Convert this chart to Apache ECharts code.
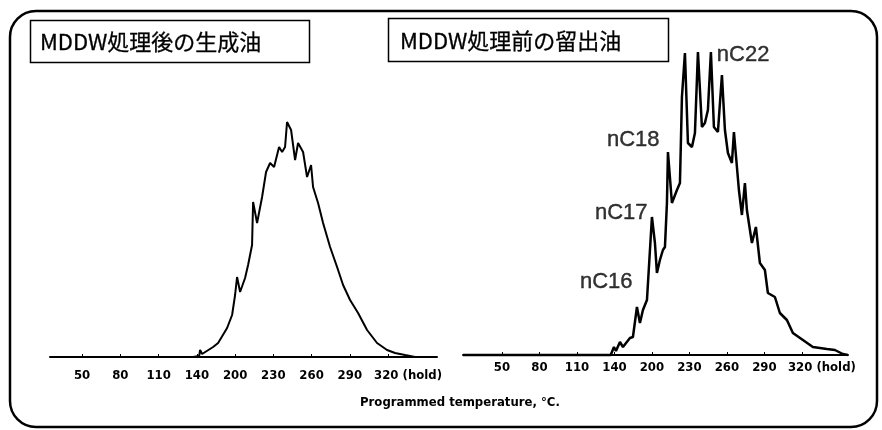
<!DOCTYPE html>
<html>
<head>
<meta charset="utf-8">
<script src="https://cdn.jsdelivr.net/npm/echarts@6/dist/echarts.min.js"></script>
<style>html,body{margin:0;padding:0;background:#fff}#c{width:882px;height:430px}</style>
</head>
<body>
<div id="c"></div>
<script>
// Tick labels (equally spaced positions on the programmed-temperature axis)
var tickPositions = [0, 1, 2, 3, 4, 5, 6, 7, 8];
var tickLabels = ['50', '80', '110', '140', '200', '230', '260', '290', '320 (hold)'];

// Panel titles
var leftTitle = 'MDDW処理後の生成油';
var rightTitle = 'MDDW処理前の留出油';
var axisTitle = 'Programmed temperature, °C.';

// Left chromatogram: product oil after MDDW (position in tick units, relative intensity)
var leftX = [-0.84, 2.9, 3.06, 3.085, 3.137, 3.425, 3.556, 3.791, 3.922, 4.0, 4.052, 4.131, 4.261, 4.34, 4.444, 4.471, 4.575, 4.706, 4.81, 4.915, 5.02, 5.15, 5.229, 5.307, 5.359, 5.464, 5.569, 5.647, 5.778, 5.882, 5.987, 6.039, 6.17, 6.301, 6.484, 6.667, 6.824, 7.007, 7.216, 7.451, 7.712, 7.974, 8.183, 8.444, 8.706, 9.28];
var leftY = [0, 0, 1, 7, 3, 10, 14, 29, 42, 62, 80, 65, 79, 92, 112, 155, 134, 160, 185, 194, 190, 210, 205, 210, 235, 227, 197, 214, 205, 180, 192, 170, 154, 134, 110, 90, 72, 57, 44, 27, 14, 7, 4, 2, 0, 0];

// Right chromatogram: distillate before MDDW
var rightX = [-1.04, 2.9, 2.987, 3.04, 3.147, 3.227, 3.413, 3.493, 3.6, 3.68, 3.76, 3.867, 3.92, 4.0, 4.08, 4.133, 4.213, 4.293, 4.347, 4.4, 4.427, 4.533, 4.667, 4.747, 4.8, 4.88, 4.96, 5.067, 5.147, 5.227, 5.333, 5.413, 5.493, 5.573, 5.653, 5.76, 5.867, 5.947, 6.027, 6.133, 6.187, 6.267, 6.32, 6.4, 6.48, 6.533, 6.667, 6.773, 6.88, 7.013, 7.093, 7.28, 7.413, 7.6, 7.76, 8.027, 8.293, 8.667, 8.88, 9.093, 9.227];
var rightY = [0, 0, 8, 4, 13, 8, 17, 18, 48, 32, 45, 55, 53, 138, 112, 82, 95, 105, 108, 152, 203, 152, 165, 172, 258, 302, 212, 208, 222, 303, 228, 232, 245, 303, 228, 223, 280, 225, 202, 192, 223, 188, 165, 140, 172, 145, 112, 128, 92, 85, 62, 58, 42, 35, 22, 15, 8, 6, 5, 1, 0];

// Peak annotations (label anchor in axis units)
var peakNames = ['nC22', 'nC18', 'nC17', 'nC16'];
var peakX = [5.73, 2.8, 2.48, 2.08];
var peakY = [300, 215, 142, 73];

function zip(xs, ys) { return xs.map(function (x, i) { return [x, ys[i]]; }); }

var tickFont = { fontFamily: 'Liberation Sans Narrow, DejaVu Sans Condensed, sans-serif', fontWeight: 'bold', fontSize: 13, color: '#000' };

function xAxisFor(idx, min, max, margin) {
  return {
    type: 'value', gridIndex: idx, min: min, max: max,
    axisLine: { show: true, onZero: false, lineStyle: { color: '#000', width: 2 } },
    axisTick: { show: true, inside: true, length: 3, customValues: tickPositions, lineStyle: { color: '#000', width: 1 } },
    splitLine: { show: false },
    axisLabel: Object.assign({
      margin: margin,
      customValues: tickPositions,
      formatter: function (v) {
        var i = Math.round(v);
        var t = tickLabels[i];
        if (i === tickPositions.length - 1) {
          var parts = t.split(' ');
          return '{p|' + parts[0] + '} ' + parts[1];
        }
        return t;
      },
      rich: { p: { padding: [0, 0, 0, 40], fontFamily: tickFont.fontFamily, fontWeight: 'bold', fontSize: 13, color: '#000' } }
    }, tickFont)
  };
}

var chart = echarts.init(document.getElementById('c'), null, { renderer: 'canvas' });
chart.setOption({
  backgroundColor: '#fff',
  animation: false,
  grid: [
    { left: 50, right: 445, top: 37, bottom: 73 },
    { left: 463, right: 34, top: 35, bottom: 75 }
  ],
  xAxis: [xAxisFor(0, -0.84, 9.28, 12), xAxisFor(1, -1.04, 9.23, 6)],
  yAxis: [
    { type: 'value', gridIndex: 0, min: 0, max: 320, show: false },
    { type: 'value', gridIndex: 1, min: 0, max: 320, show: false }
  ],
  series: [
    { type: 'line', xAxisIndex: 0, yAxisIndex: 0, data: zip(leftX, leftY), symbol: 'none', clip: false,
      lineStyle: { color: '#000', width: 2 } },
    { type: 'line', xAxisIndex: 1, yAxisIndex: 1, data: zip(rightX, rightY), symbol: 'none', clip: false,
      lineStyle: { color: '#000', width: 2.5 } },
    { type: 'scatter', xAxisIndex: 1, yAxisIndex: 1, symbolSize: 0, clip: false,
      data: peakNames.map(function (n, i) { return { name: n, value: [peakX[i], peakY[i]] }; }),
      label: { show: true, position: 'right', distance: 0, formatter: '{b}',
        fontFamily: 'Liberation Sans, Arial, sans-serif', fontSize: 22, color: '#000',
        textBorderColor: '#000', textBorderWidth: 0.4 } }
  ],
  graphic: [
    { type: 'rect', shape: { x: 10, y: 11, width: 867, height: 416, r: 26 }, style: { fill: 'none', stroke: '#000', lineWidth: 2.5 } },
    { type: 'rect', shape: { x: 30.5, y: 20.5, width: 279, height: 42 }, style: { fill: '#fff', stroke: '#000', lineWidth: 1.5 } },
    { type: 'text', x: 40, y: 42, style: { text: leftTitle, fontFamily: 'Noto Sans CJK JP, sans-serif', fontSize: 22, fill: '#000', stroke: '#000', lineWidth: 0.3, verticalAlign: 'middle' } },
    { type: 'rect', shape: { x: 388.5, y: 18.5, width: 280, height: 43 }, style: { fill: '#fff', stroke: '#000', lineWidth: 1.5 } },
    { type: 'text', x: 400, y: 41, style: { text: rightTitle, fontFamily: 'Noto Sans CJK JP, sans-serif', fontSize: 22, fill: '#000', stroke: '#000', lineWidth: 0.3, verticalAlign: 'middle' } },
    { type: 'text', x: 360, y: 403, style: { text: axisTitle, fontFamily: tickFont.fontFamily, fontWeight: 'bold', fontSize: 13, fill: '#000', verticalAlign: 'middle' } }
  ]
});
</script>
</body>
</html>
